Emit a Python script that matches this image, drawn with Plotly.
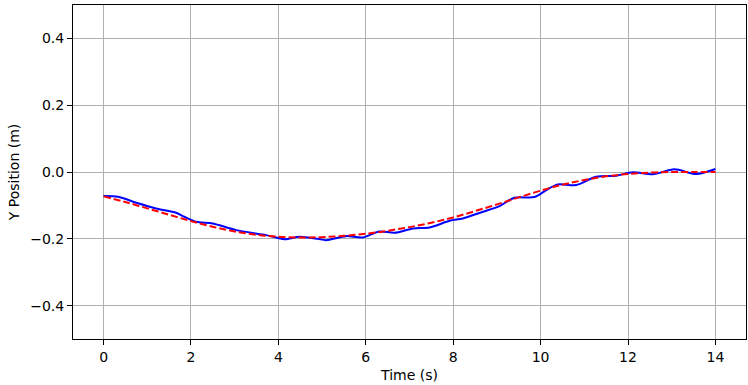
"""Y position over time: measured vs reference trajectory."""

import plotly.graph_objects as go

# Measured trajectory (blue, solid).
t_measured = [0.0, 0.33, 0.75, 1.2, 1.66, 1.85, 2.12, 2.5, 3.03, 3.72, 4.14, 4.48,
              4.9, 5.09, 5.55, 5.93, 6.31, 6.66, 7.08, 7.46, 7.92, 8.22, 8.68,
              9.06, 9.4, 9.86, 10.13, 10.39, 10.81, 11.27, 11.73, 12.11, 12.57,
              13.06, 13.56, 14.0]
y_measured = [-0.072, -0.074, -0.092, -0.109, -0.122, -0.134, -0.149, -0.154,
              -0.174, -0.189, -0.201, -0.194, -0.200, -0.204, -0.192, -0.196,
              -0.178, -0.182, -0.169, -0.166, -0.146, -0.139, -0.119, -0.102,
              -0.077, -0.075, -0.054, -0.037, -0.039, -0.014, -0.011, -0.001,
              -0.007, 0.008, -0.006, 0.009]

# Reference trajectory (red, dashed).
t_reference = [0.0, 0.5, 1.0, 1.5, 2.0, 2.5, 3.0, 3.5, 4.0, 4.5, 5.0, 5.5, 6.0,
               6.5, 7.0, 7.5, 8.0, 8.5, 9.0, 9.5, 10.0, 10.5, 11.0, 11.5, 12.0,
               12.5, 13.0, 13.5, 14.0]
y_reference = [-0.073, -0.090, -0.109, -0.128, -0.147, -0.164, -0.178, -0.188,
               -0.194, -0.196, -0.195, -0.191, -0.185, -0.176, -0.165, -0.152,
               -0.136, -0.117, -0.097, -0.076, -0.056, -0.038, -0.024, -0.013,
               -0.006, -0.002, 0.000, 0.000, 0.000]

x_ticks = [0, 2, 4, 6, 8, 10, 12, 14]
y_ticks = [-0.4, -0.2, 0.0, 0.2, 0.4]
y_tick_labels = ["\u22120.4", "\u22120.2", "0.0", "0.2", "0.4"]

fig = go.Figure()
fig.add_trace(go.Scatter(
    x=t_measured, y=y_measured, mode="lines",
    line=dict(color="blue", width=2, shape="spline", smoothing=0.8),
    showlegend=False,
))
fig.add_trace(go.Scatter(
    x=t_reference, y=y_reference, mode="lines",
    line=dict(color="red", width=2, dash="7px,3px", shape="spline"),
    showlegend=False,
))

axis_style = dict(
    showline=True, linecolor="black", linewidth=1, mirror=True,
    showgrid=True, gridcolor="#b0b0b0", gridwidth=1,
    ticks="outside", ticklen=5, tickcolor="black", zeroline=False,
    tickfont=dict(family="DejaVu Sans", size=14, color="black"),
)
fig.update_xaxes(
    range=[-0.7, 14.7], tickvals=x_ticks,
    title=dict(text="Time (s)", font=dict(family="DejaVu Sans", size=14), standoff=6),
    **axis_style,
)
fig.update_yaxes(
    range=[-0.5, 0.5], tickvals=y_ticks, ticktext=y_tick_labels,
    title=dict(text="Y Position (m)", font=dict(family="DejaVu Sans", size=14), standoff=7),
    **axis_style,
)
fig.update_layout(
    width=748, height=385,
    margin=dict(l=73, r=2, t=5, b=46),
    plot_bgcolor="white", paper_bgcolor="white",
    font=dict(family="DejaVu Sans", color="black"),
)

# Drop the browser's default body margin so the figure sits at the page corner.
fig.write_html(
    "out.html",
    config={"displayModeBar": False},
    post_script="document.body.style.margin='0';",
)
